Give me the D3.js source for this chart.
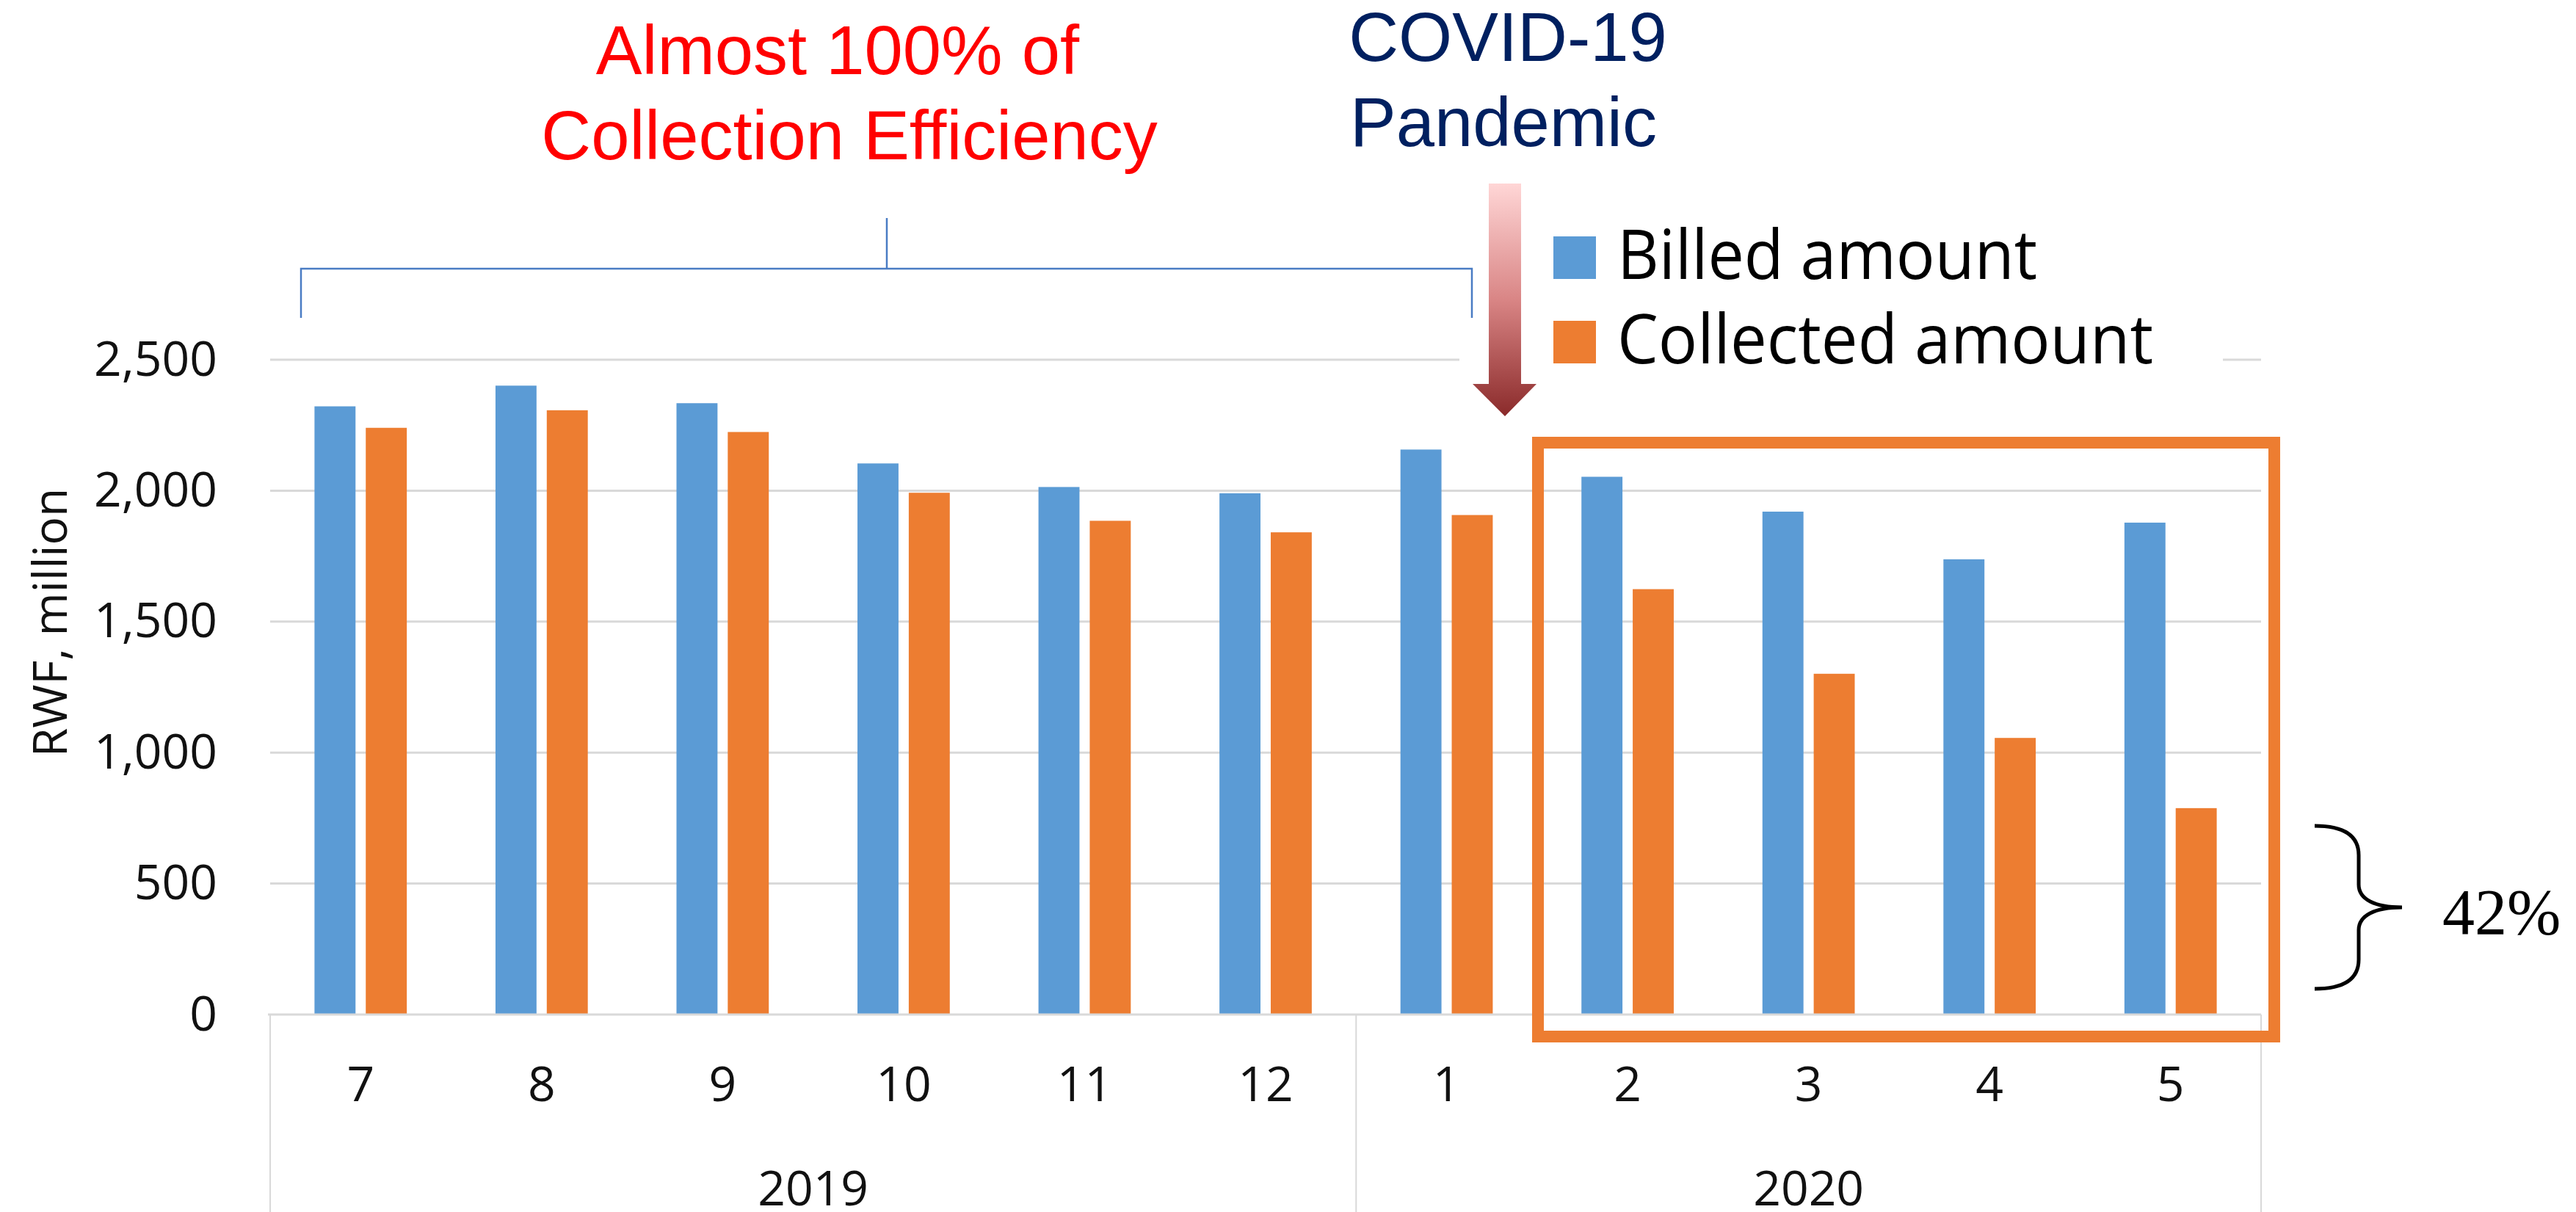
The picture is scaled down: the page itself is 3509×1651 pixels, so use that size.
<!DOCTYPE html>
<html>
<head>
<meta charset="utf-8">
<script src="https://cdn.jsdelivr.net/npm/d3@7"></script>
<style>
  html, body { margin: 0; padding: 0; background: #fff; }
  svg { display: block; }
  .tick text { font-family: "Open Sans", sans-serif; }
</style>
</head>
<body>
<div id="chart"></div>
<script>
var months = ["7", "8", "9", "10", "11", "12", "1", "2", "3", "4", "5"];
var years = ["2019", "2020"];
var yearMonths = [6, 5];
var series = ["Billed amount", "Collected amount"];
var billed = [2322, 2401, 2334, 2104, 2014, 1990, 2157, 2053, 1920, 1738, 1878];
var collected = [2240, 2307, 2224, 1992, 1885, 1841, 1907, 1624, 1301, 1056, 788];
var yTicks = [0, 500, 1000, 1500, 2000, 2500];
var colors = ["#5B9BD5", "#ED7D31"];

var W = 3509, H = 1651;
var plot = {left: 368, right: 3080, top: 490, bottom: 1382};

var svg = d3.select("#chart").append("svg")
    .attr("width", W)
    .attr("height", H);

var defs = svg.append("defs");
var grad = defs.append("linearGradient")
    .attr("id", "arrowGrad")
    .attr("x1", 0).attr("y1", 0).attr("x2", 0).attr("y2", 1);
grad.append("stop").attr("offset", "0%").attr("stop-color", "#FFD6D6");
grad.append("stop").attr("offset", "50%").attr("stop-color", "#D98585");
grad.append("stop").attr("offset", "100%").attr("stop-color", "#8A2A2A");

var x0 = d3.scaleBand()
    .domain(months.map(function(d, i) { return i; }))
    .range([plot.left, plot.right])
    .paddingInner(0.49)
    .paddingOuter(0.245);

var x1 = d3.scaleBand()
    .domain([0, 1])
    .range([0, x0.bandwidth()])
    .paddingInner(0.2);

var y = d3.scaleLinear()
    .domain([0, 2500])
    .range([plot.bottom, plot.top]);

var step = (plot.right - plot.left) / months.length;

// gridlines
svg.append("g")
    .selectAll("line")
    .data(yTicks.slice(1))
    .enter().append("line")
    .attr("x1", plot.left)
    .attr("x2", plot.right)
    .attr("y1", function(d) { return y(d); })
    .attr("y2", function(d) { return y(d); })
    .attr("stroke", "#d9d9d9")
    .attr("stroke-width", 3);

// y axis labels
var yAxis = d3.axisLeft(y)
    .tickValues(yTicks)
    .tickFormat(d3.format(","))
    .tickSize(0)
    .tickPadding(72);

var yg = svg.append("g")
    .attr("transform", "translate(" + plot.left + ",0)")
    .call(yAxis);
yg.select(".domain").remove();
yg.selectAll("text")
    .attr("font-size", 66)
    .attr("fill", "#111");

svg.append("text")
    .attr("transform", "translate(91,848) rotate(-90)")
    .attr("text-anchor", "middle")
    .attr("font-family", "Open Sans, sans-serif")
    .attr("font-size", 64)
    .attr("fill", "#111")
    .text("RWF, million");

// bars
var groups = svg.append("g")
    .selectAll("g")
    .data(months.map(function(m, i) { return [billed[i], collected[i]]; }))
    .enter().append("g")
    .attr("transform", function(d, i) { return "translate(" + x0(i) + ",0)"; });

groups.selectAll("rect")
    .data(function(d) { return d; })
    .enter().append("rect")
    .attr("x", function(d, j) { return x1(j); })
    .attr("y", function(d) { return y(d); })
    .attr("width", x1.bandwidth())
    .attr("height", function(d) { return y(0) - y(d); })
    .attr("fill", function(d, j) { return colors[j]; });

// category axis
svg.append("line")
    .attr("x1", plot.left - 3).attr("x2", plot.right)
    .attr("y1", plot.bottom).attr("y2", plot.bottom)
    .attr("stroke", "#d9d9d9")
    .attr("stroke-width", 3);

var seps = [0];
yearMonths.forEach(function(n, i) { seps.push(seps[i] + n); });
svg.append("g")
    .selectAll("line")
    .data(seps)
    .enter().append("line")
    .attr("x1", function(d) { return plot.left + d * step; })
    .attr("x2", function(d) { return plot.left + d * step; })
    .attr("y1", plot.bottom)
    .attr("y2", H)
    .attr("stroke", "#d9d9d9")
    .attr("stroke-width", 2);

svg.append("g")
    .selectAll("text")
    .data(months)
    .enter().append("text")
    .attr("x", function(d, i) { return x0(i) + x0.bandwidth() / 2; })
    .attr("y", 1500)
    .attr("text-anchor", "middle")
    .attr("font-family", "Open Sans, sans-serif")
    .attr("font-size", 66)
    .attr("fill", "#111")
    .text(function(d) { return d; });

svg.append("g")
    .selectAll("text")
    .data(years)
    .enter().append("text")
    .attr("x", function(d, i) { return plot.left + (seps[i] + seps[i + 1]) / 2 * step; })
    .attr("y", 1642)
    .attr("text-anchor", "middle")
    .attr("font-family", "Open Sans, sans-serif")
    .attr("font-size", 66)
    .attr("fill", "#111")
    .text(function(d) { return d; });

// legend (white box hides the gridline)
svg.append("rect")
    .attr("x", 1988).attr("y", 295)
    .attr("width", 1040).attr("height", 215)
    .attr("fill", "#fff");

var legend = svg.append("g")
    .selectAll("g")
    .data(series)
    .enter().append("g")
    .attr("transform", function(d, i) { return "translate(2116," + (322 + i * 115) + ")"; });
legend.append("rect")
    .attr("width", 58).attr("height", 58)
    .attr("fill", function(d, i) { return colors[i]; });
legend.append("text")
    .attr("x", 87).attr("y", 58)
    .attr("font-family", "Open Sans, sans-serif")
    .attr("font-size", 94)
    .attr("fill", "#000")
    .attr("textLength", function(d, i) { return [572, 730][i]; })
    .attr("lengthAdjust", "spacingAndGlyphs")
    .text(function(d) { return d; });

// bracket over 2019 period
svg.append("path")
    .attr("d", "M410,433V366H2005V433M1208,366V297")
    .attr("fill", "none")
    .attr("stroke", "#4A7CC4")
    .attr("stroke-width", 2.5);

// annotations
var note = svg.append("g")
    .attr("font-family", "Liberation Sans, Arial, sans-serif")
    .attr("font-size", 94)
    .attr("text-anchor", "middle");
note.append("text").attr("x", 1141).attr("y", 101).attr("fill", "#FF0000").text("Almost 100% of");
note.append("text").attr("x", 1157).attr("y", 217).attr("fill", "#FF0000").text("Collection Efficiency");
note.append("text").attr("x", 2054).attr("y", 83).attr("fill", "#002060").text("COVID-19");
note.append("text").attr("x", 2048).attr("y", 199).attr("fill", "#002060").text("Pandemic");

// arrow
svg.append("path")
    .attr("d", "M2028,250H2072V523H2093L2050,567L2006,523H2028Z")
    .attr("fill", "url(#arrowGrad)");

// highlight box
svg.append("rect")
    .attr("x", 2095).attr("y", 603)
    .attr("width", 1003).attr("height", 809)
    .attr("fill", "none")
    .attr("stroke", "#ED7D31")
    .attr("stroke-width", 16);

// brace and 42%
svg.append("path")
    .attr("d", "M3153,1125C3195,1125 3213,1140 3213,1165V1205C3213,1225 3235,1236 3272,1236C3235,1236 3213,1247 3213,1267V1307C3213,1332 3195,1347 3153,1347")
    .attr("fill", "none")
    .attr("stroke", "#000")
    .attr("stroke-width", 5);

svg.append("text")
    .attr("x", 3327).attr("y", 1272)
    .attr("font-family", "Liberation Serif, serif")
    .attr("font-size", 88)
    .attr("fill", "#000")
    .text("42%");
</script>
</body>
</html>
